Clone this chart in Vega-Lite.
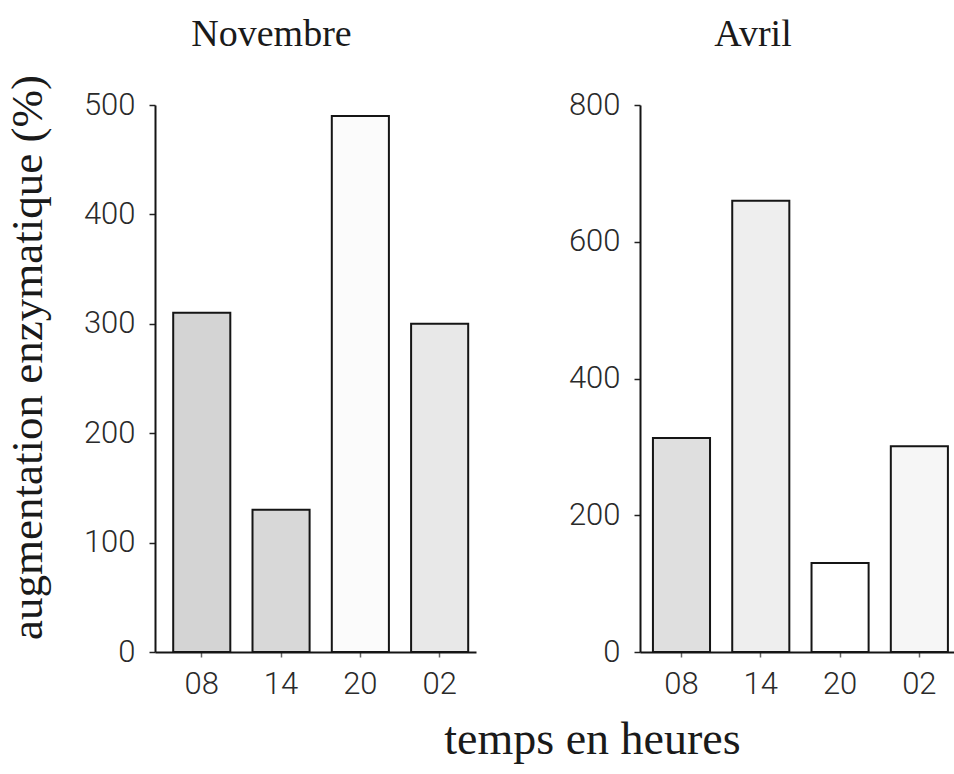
{
  "$schema": "https://vega.github.io/schema/vega-lite/v6.json",
  "autosize": {"type": "pad"},
  "padding": {"left": 4, "top": 15, "right": 0, "bottom": 5},
  "background": "#ffffff",
  "config": {
    "view": {"stroke": null},
    "concat": {"spacing": 92},
    "axis": {
      "domainColor": "#151515",
      "domainWidth": 2,
      "tickColor": "#222222",
      "tickWidth": 1.5,
      "tickSize": 6,
      "grid": false,
      "labelFont": "Roboto",
      "labelFontWeight": 300,
      "labelFontSize": 31,
      "labelColor": "#2a2a2a",
      "titleFont": "Liberation Serif",
      "titleFontWeight": "normal",
      "titleColor": "#1a1a1a"
    },
    "title": {
      "font": "Liberation Serif",
      "fontWeight": "normal",
      "fontSize": 38,
      "color": "#1a1a1a"
    }
  },
  "title": {
    "text": "temps en heures",
    "orient": "bottom",
    "anchor": "middle",
    "fontSize": 46,
    "offset": 19,
    "dx": 113
  },
  "data": {
    "values": [
      {"mois": "Novembre", "heure": "08", "valeur": 310},
      {"mois": "Novembre", "heure": "14", "valeur": 130},
      {"mois": "Novembre", "heure": "20", "valeur": 490},
      {"mois": "Novembre", "heure": "02", "valeur": 300},
      {"mois": "Avril", "heure": "08", "valeur": 313},
      {"mois": "Avril", "heure": "14", "valeur": 660},
      {"mois": "Avril", "heure": "20", "valeur": 130},
      {"mois": "Avril", "heure": "02", "valeur": 301}
    ]
  },
  "hconcat": [
    {
      "title": {"text": "Novembre", "anchor": "middle", "dx": -44, "offset": 21},
      "width": 321,
      "height": 547,
      "transform": [{"filter": "datum.mois == 'Novembre'"}],
      "mark": {"type": "bar", "stroke": "#151515", "strokeWidth": 2},
      "encoding": {
        "x": {
          "field": "heure",
          "type": "nominal",
          "sort": ["08", "14", "20", "02"],
          "scale": {"paddingInner": 0.28, "paddingOuter": 0.164, "align": 0.7},
          "axis": {"title": null, "labelAngle": 0, "labelPadding": 12, "tickSize": 5, "tickWidth": 1.5, "tickColor": "#666666"}
        },
        "y": {
          "field": "valeur",
          "type": "quantitative",
          "scale": {"domain": [0, 500], "nice": false},
          "axis": {
            "values": [0, 100, 200, 300, 400, 500],
            "title": "augmentation enzymatique (%)",
            "titleFontSize": 45,
            "titleBaseline": "middle",
            "titleX": -128,
            "titleY": 252,
            "labelPadding": 14
          }
        },
        "fill": {
          "condition": [
            {"test": "datum.heure == '08'", "value": "#d4d4d4"},
            {"test": "datum.heure == '14'", "value": "#d8d8d8"},
            {"test": "datum.heure == '02'", "value": "#e8e8e8"}
          ],
          "value": "#fbfbfb"
        }
      }
    },
    {
      "title": {"text": "Avril", "anchor": "middle", "dx": -44, "offset": 35},
      "width": 314,
      "height": 547,
      "transform": [{"filter": "datum.mois == 'Avril'"}],
      "mark": {"type": "bar", "stroke": "#151515", "strokeWidth": 2},
      "encoding": {
        "x": {
          "field": "heure",
          "type": "nominal",
          "sort": ["08", "14", "20", "02"],
          "scale": {"paddingInner": 0.28, "paddingOuter": 0.12, "align": 0.68},
          "axis": {"title": null, "labelAngle": 0, "labelPadding": 12, "tickSize": 5, "tickWidth": 1.5, "tickColor": "#666666"}
        },
        "y": {
          "field": "valeur",
          "type": "quantitative",
          "scale": {"domain": [0, 800], "nice": false},
          "axis": {
            "values": [0, 200, 400, 600, 800],
            "title": null,
            "labelPadding": 14
          }
        },
        "fill": {
          "condition": [
            {"test": "datum.heure == '08'", "value": "#dfdfdf"},
            {"test": "datum.heure == '14'", "value": "#eeeeee"},
            {"test": "datum.heure == '02'", "value": "#f6f6f6"}
          ],
          "value": "#ffffff"
        }
      }
    }
  ]
}
